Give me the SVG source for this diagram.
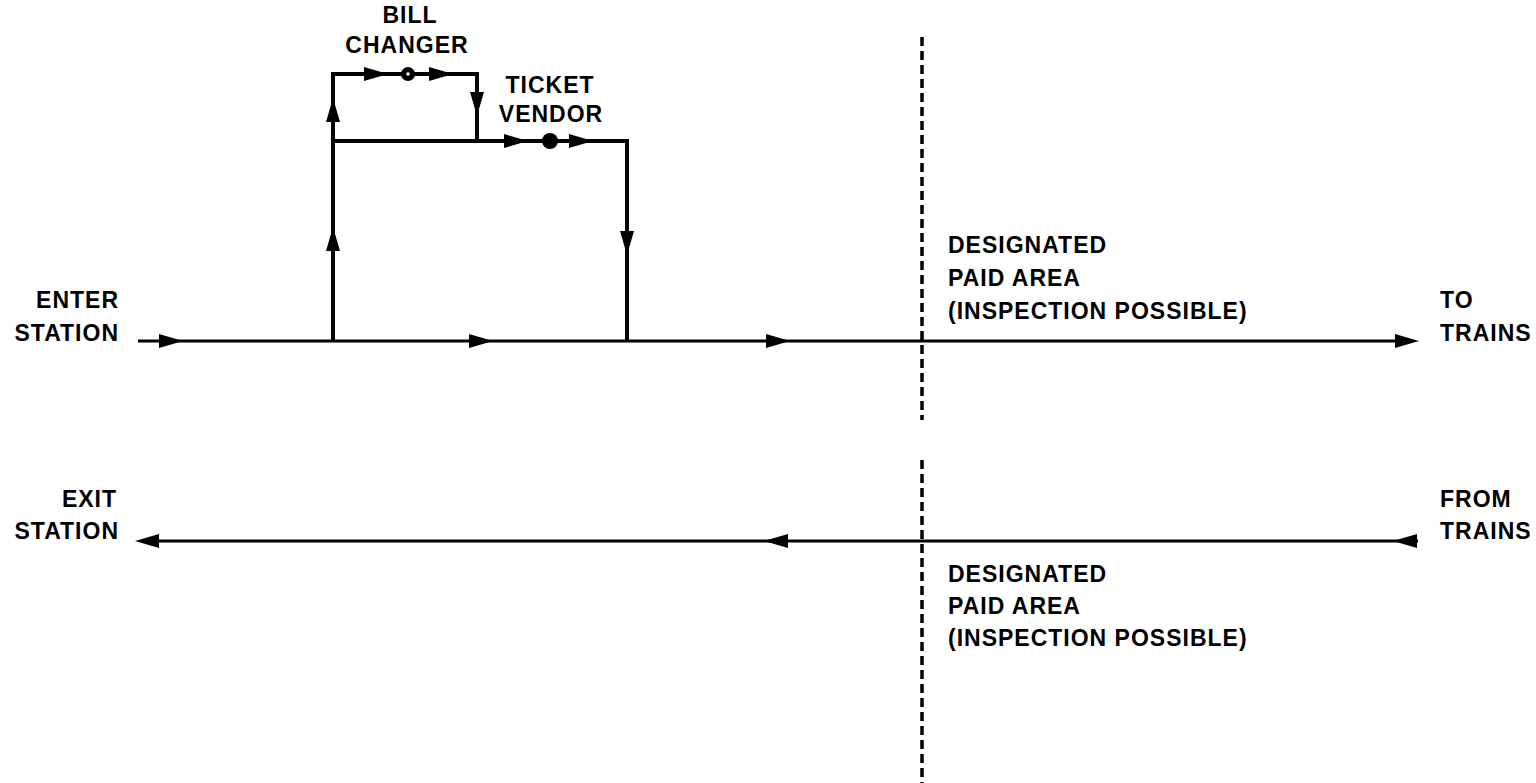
<svg xmlns="http://www.w3.org/2000/svg" xmlns:xlink="http://www.w3.org/1999/xlink" width="1536" height="783" viewBox="0 0 1536 783">
<style>
.t{font-family:"Liberation Sans",Arial,sans-serif;font-weight:bold;font-size:23px;letter-spacing:1px;fill:#000}
.e{text-anchor:end}
.m{text-anchor:middle}
.ln{stroke:#000;stroke-width:3;fill:none}
.lv{stroke:#000;stroke-width:4;fill:none}
.dash{stroke:#000;stroke-width:3.5;stroke-dasharray:9 5;fill:none}
</style>
<defs>
<path id="arr" d="M0,0 L-24,-7 L-24,7 Z" fill="#000"/>
</defs>
<rect width="1536" height="783" fill="#fff"/>
<g id="connectors">
<path class="ln" d="M138,341 H1400"/>
<path class="lv" d="M333,341 V74 H477 V141"/>
<path class="lv" d="M333,141 H627 V341"/>
<path class="ln" d="M155,541 H1418"/>
<use xlink:href="#arr" transform="translate(183,341)"/>
<use xlink:href="#arr" transform="translate(493,341)"/>
<use xlink:href="#arr" transform="translate(790,341)"/>
<use xlink:href="#arr" transform="translate(1419,341)"/>
<use xlink:href="#arr" transform="translate(333,227) rotate(-90)"/>
<use xlink:href="#arr" transform="translate(333,98) rotate(-90)"/>
<use xlink:href="#arr" transform="translate(388,74)"/>
<use xlink:href="#arr" transform="translate(453,74)"/>
<use xlink:href="#arr" transform="translate(477,116) rotate(90)"/>
<use xlink:href="#arr" transform="translate(528,141)"/>
<use xlink:href="#arr" transform="translate(593,141)"/>
<use xlink:href="#arr" transform="translate(627,255) rotate(90)"/>
<use xlink:href="#arr" transform="translate(135,541) rotate(180)"/>
<use xlink:href="#arr" transform="translate(764,541) rotate(180)"/>
<use xlink:href="#arr" transform="translate(1393,541) rotate(180)"/>
</g>
<g id="bill-changer">
<circle cx="408" cy="74" r="7" fill="#000"/>
<circle cx="408" cy="74" r="1.8" fill="#fff"/>
<text class="t m" x="410" y="23">BILL</text>
<text class="t m" x="407" y="53">CHANGER</text>
</g>
<g id="ticket-vendor">
<circle cx="550" cy="141" r="8" fill="#000"/>
<text class="t m" x="550" y="93">TICKET</text>
<text class="t m" x="551" y="122">VENDOR</text>
</g>
<g id="paid-boundary-top">
<path class="dash" d="M922,37 V420"/>
</g>
<g id="paid-boundary-bottom">
<path class="dash" d="M922,460 V783"/>
</g>
<g id="enter-station">
<text class="t e" x="119" y="308">ENTER</text>
<text class="t e" x="119" y="341">STATION</text>
</g>
<g id="to-trains">
<text class="t" x="1440" y="308">TO</text>
<text class="t" x="1440" y="341">TRAINS</text>
</g>
<g id="paid-area-top">
<text class="t" x="948" y="253">DESIGNATED</text>
<text class="t" x="948" y="286">PAID AREA</text>
<text class="t" x="948" y="319">(INSPECTION POSSIBLE)</text>
</g>
<g id="exit-station">
<text class="t e" x="117" y="507">EXIT</text>
<text class="t e" x="119" y="539">STATION</text>
</g>
<g id="from-trains">
<text class="t" x="1440" y="507">FROM</text>
<text class="t" x="1440" y="539">TRAINS</text>
</g>
<g id="paid-area-bottom">
<text class="t" x="948" y="582">DESIGNATED</text>
<text class="t" x="948" y="614">PAID AREA</text>
<text class="t" x="948" y="646">(INSPECTION POSSIBLE)</text>
</g>
</svg>
